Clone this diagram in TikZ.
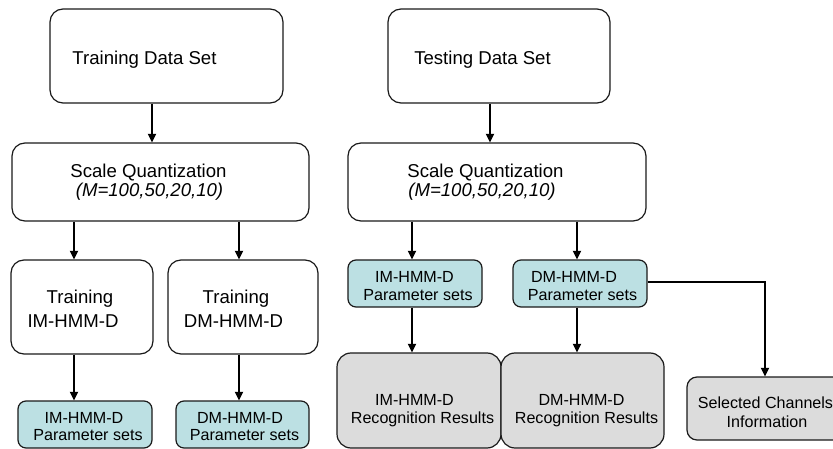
\documentclass[tikz,border=0pt]{standalone}
\usepackage{fontspec}
\setmainfont{Liberation Sans}
\usetikzlibrary{arrows.meta}
\definecolor{paramfill}{HTML}{BCE0E3}
\definecolor{resfill}{HTML}{DCDCDC}
\definecolor{edge}{HTML}{1A1A1A}

\begin{document}
\begin{tikzpicture}[x=1pt,y=-1pt,
  box/.style={draw=edge, line width=1.2pt, fill=white, inner sep=0pt},
  bigbox/.style={box, rounded corners=13pt},
  parbox/.style={box, fill=paramfill, rounded corners=8pt},
  resbox/.style={box, fill=resfill, rounded corners=14pt},
  selbox/.style={box, fill=resfill, rounded corners=10pt},
  bigtxt/.style={inner sep=0pt, anchor=base, font=\fontsize{18.6}{22}\selectfont},
  smalltxt/.style={inner sep=0pt, anchor=base, font=\fontsize{16.1}{19}\selectfont},
  arr/.style={line width=1.8pt, draw=black, -{Triangle[length=8.5pt,width=8pt]}}]

\useasboundingbox (0,0) rectangle (833,449);
\clip (0,0) rectangle (833,449);

% ---- training side ----
\node[bigbox, minimum width=233pt, minimum height=94pt] (tds) at (166.5,56) {};
\node[bigbox, minimum width=297pt, minimum height=78pt] (sq1) at (160.5,182) {};
\node[bigbox, minimum width=142pt, minimum height=94pt] (tim) at (82,307) {};
\node[bigbox, minimum width=150pt, minimum height=94pt] (tdm) at (243,307) {};
\node[parbox, minimum width=134pt, minimum height=47pt] (pim1) at (85,424.5) {};
\node[parbox, minimum width=133pt, minimum height=47pt] (pdm1) at (242.5,424.5) {};

% ---- testing side ----
\node[bigbox, minimum width=222pt, minimum height=94pt] (tsd) at (499,56) {};
\node[bigbox, minimum width=298pt, minimum height=78pt] (sq2) at (497,182) {};
\node[parbox, minimum width=134pt, minimum height=47pt] (pim2) at (415,283.5) {};
\node[parbox, minimum width=134pt, minimum height=47pt] (pdm2) at (580,283.5) {};
\node[resbox, minimum width=164pt, minimum height=95pt] (rim) at (419,400.5) {};
\node[resbox, minimum width=163pt, minimum height=95pt] (rdm) at (582.5,400.5) {};
\node[selbox, minimum width=156pt, minimum height=63pt] (sel) at (765,408.5) {};

% ---- labels ----
\node[bigtxt] (tdsA) at (144.5,65) {Training Data Set};
\node[bigtxt] (sq1A) at (148.5,178) {Scale Quantization};
\node[bigtxt] (sq1B) at (149.5,197) {\itshape (M=100,50,20,10)};
\node[bigtxt] (timA) at (80,303) {Training};
\node[bigtxt] (timB) at (73,327) {IM-HMM-D};
\node[bigtxt] (tdmA) at (236,303) {Training};
\node[bigtxt] (tdmB) at (233.5,327) {DM-HMM-D};
\node[smalltxt] (pim1A) at (84,423) {IM-HMM-D};
\node[smalltxt] (pim1B) at (88,440) {Parameter sets};
\node[smalltxt] (pdm1A) at (240,423) {DM-HMM-D};
\node[smalltxt] (pdm1B) at (244.5,440) {Parameter sets};

\node[bigtxt] (tsdA) at (482.5,65) {Testing Data Set};
\node[bigtxt] (sq2A) at (485.5,178) {Scale Quantization};
\node[bigtxt] (sq2B) at (482,197) {\itshape (M=100,50,20,10)};
\node[smalltxt] (pim2A) at (414.5,283) {IM-HMM-D};
\node[smalltxt] (pim2B) at (418,301) {Parameter sets};
\node[smalltxt] (pdm2A) at (574,283) {DM-HMM-D};
\node[smalltxt] (pdm2B) at (582.5,301) {Parameter sets};
\node[smalltxt] (rimA) at (414.5,405) {IM-HMM-D};
\node[smalltxt] (rimB) at (422.5,423) {Recognition Results};
\node[smalltxt] (rdmA) at (581.5,405) {DM-HMM-D};
\node[smalltxt] (rdmB) at (586.5,423) {Recognition Results};
\node[smalltxt] (selA) at (765.5,408) {Selected Channels};
\node[smalltxt] (selB) at (767,427) {Information};

% ---- connectors ----
\draw[arr] (tds.south -| 152,0) -- (sq1.north -| 152,0);
\draw[arr] (sq1.south -| 74,0) -- (tim.north -| 74,0);
\draw[arr] (sq1.south -| 239,0) -- (tdm.north -| 239,0);
\draw[arr] (tim.south -| 74,0) -- (pim1.north -| 74,0);
\draw[arr] (tdm.south -| 239,0) -- (pdm1.north -| 239,0);

\draw[arr] (tsd.south -| 490,0) -- (sq2.north -| 490,0);
\draw[arr] (sq2.south -| 412,0) -- (pim2.north -| 412,0);
\draw[arr] (sq2.south -| 577,0) -- (pdm2.north -| 577,0);
\draw[arr] (pim2.south -| 412,0) -- (rim.north -| 412,0);
\draw[arr] (pdm2.south -| 577,0) -- (rdm.north -| 577,0);
\draw[arr] (pdm2.east |- 0,282) -| (sel.north);
\end{tikzpicture}
\end{document}
